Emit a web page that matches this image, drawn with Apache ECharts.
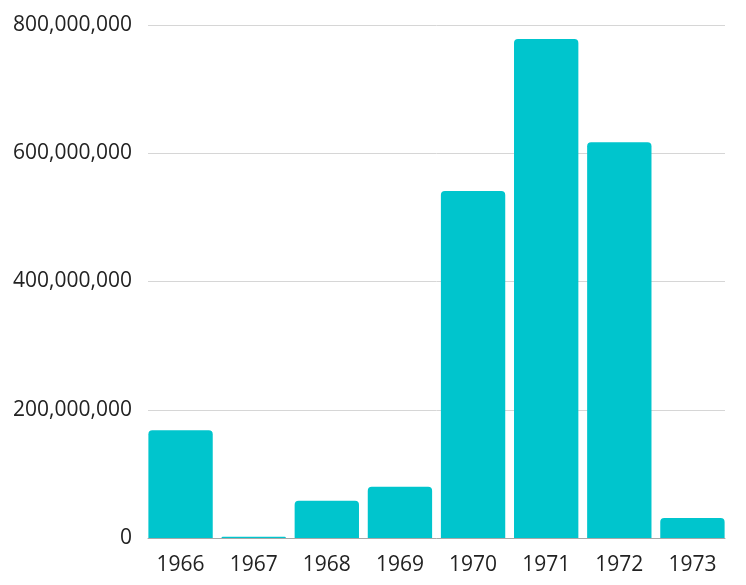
<!DOCTYPE html>
<html>
<head>
<meta charset="utf-8">
<script src="https://cdn.jsdelivr.net/npm/echarts@6/dist/echarts.min.js"></script>
<style>
  html, body { margin: 0; padding: 0; background: #fff; }
  #chart { width: 746px; height: 585px; }
</style>
</head>
<body>
<div id="chart"></div>
<script>
  var years = ['1966', '1967', '1968', '1969', '1970', '1971', '1972', '1973']
  var values = [168000000, 2000000, 58000000, 80000000, 541000000, 778000000, 617000000, 31000000]
  var yMax = 800000000
  var yStep = 200000000

  function withCommas(v) {
    return v.toString().replace(/\B(?=(\d{3})+(?!\d))/g, ',')
  }

  var chart = echarts.init(document.getElementById('chart'))
  chart.setOption({
    animation: false,
    // grid 0 holds the y labels / split lines, grid 1 the bars (slightly wider band)
    grid: [
      { left: 148, right: 21, top: 25, bottom: 47 },
      { left: 144, right: 17, top: 25, bottom: 47 }
    ],
    xAxis: [{
      type: 'category',
      gridIndex: 0,
      data: years,
      axisTick: { show: false },
      axisLabel: { show: false },
      axisLine: { lineStyle: { color: '#a8a8a8', width: 1 } }
    }, {
      type: 'category',
      gridIndex: 1,
      data: years,
      axisTick: { show: false },
      axisLine: { show: false },
      axisLabel: {
        color: '#222',
        fontFamily: 'Open Sans',
        fontSize: 21,
        margin: 17
      }
    }],
    yAxis: [{
      type: 'value',
      gridIndex: 0,
      min: 0,
      max: yMax,
      interval: yStep,
      axisLine: { show: false },
      axisTick: { show: false },
      splitLine: { lineStyle: { color: '#d6d6d6' } },
      axisLabel: {
        color: '#222',
        fontFamily: 'Open Sans',
        fontSize: 21,
        margin: 16,
        padding: [3, 0, 0, 0],
        formatter: withCommas
      }
    }, {
      type: 'value',
      gridIndex: 1,
      min: 0,
      max: yMax,
      interval: yStep,
      show: false
    }],
    series: [{
      type: 'bar',
      xAxisIndex: 1,
      yAxisIndex: 1,
      data: values,
      barCategoryGap: '12%',
      itemStyle: {
        color: '#00c5cd',
        borderRadius: [4, 4, 0, 0]
      }
    }]
  })
</script>
</body>
</html>
